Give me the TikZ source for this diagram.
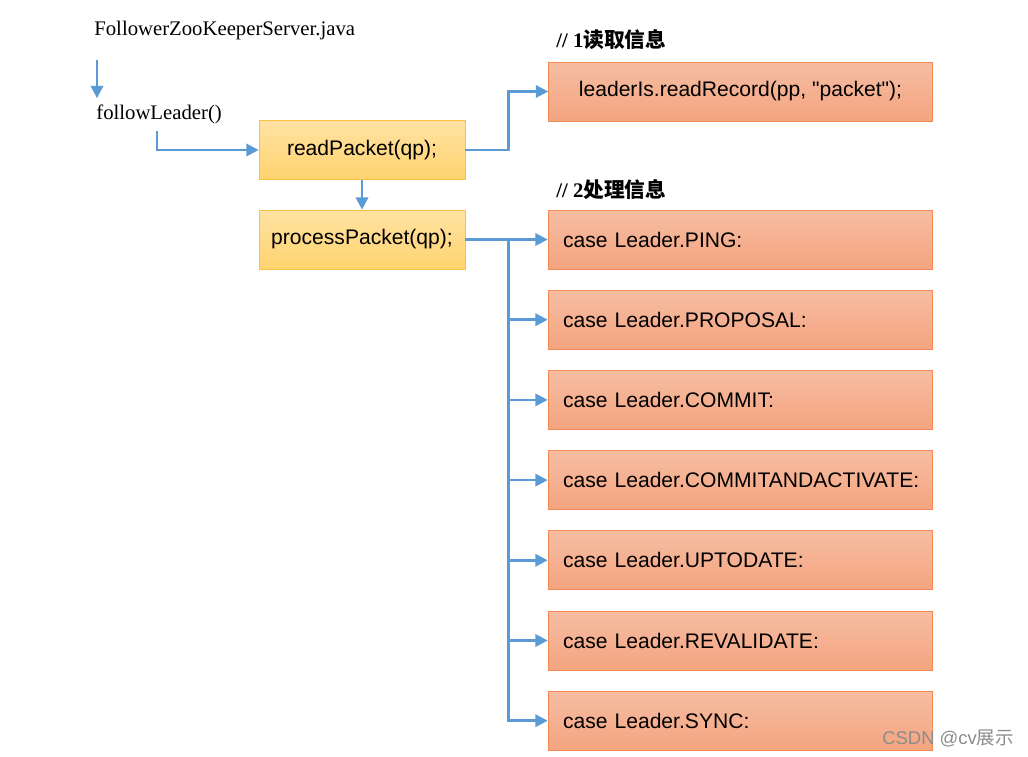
\documentclass[tikz,border=0pt]{standalone}
\usepackage{fontspec}
\setmainfont{Liberation Serif}
\newfontfamily\arial{Liberation Sans}
\newfontfamily\cjk{Noto Sans CJK SC}
\usetikzlibrary{arrows.meta,positioning}
\definecolor{lienbleu}{HTML}{5B9BD5}
\definecolor{jauneA}{HTML}{FFE2A3}
\definecolor{jauneB}{HTML}{FFD36E}
\definecolor{jauneBord}{HTML}{F9C23C}
\definecolor{saumonA}{HTML}{F6BDA2}
\definecolor{saumonB}{HTML}{F4A480}
\definecolor{saumonBord}{HTML}{F28A52}
\tikzset{
  fleche/.style={draw=lienbleu, line width=1.4pt, -{Triangle[length=7pt,width=7pt]}},
  texte/.style={anchor=west, inner sep=0pt, font=\fontsize{11.8}{14}\selectfont},
  titre/.style={texte, font=\fontsize{11.8}{14}\selectfont\bfseries},
  jaune/.style={draw=jauneBord, top color=jauneA, bottom color=jauneB, minimum width=4.12cm,
    minimum height=1.18cm, font=\arial\fontsize{12}{14}\selectfont},
  saumon/.style={draw=saumonBord, top color=saumonA, bottom color=saumonB, minimum width=7.68cm,
    minimum height=1.18cm, font=\arial\fontsize{12}{14}\selectfont},
  cas/.style={saumon, text width=7.08cm, inner xsep=0.3cm, align=left}
}
\begin{document}
\begin{tikzpicture}[x=0.02cm, y=-0.02cm]
  \useasboundingbox (0,0) rectangle (1028,757);

  % classe et methode
  \node[texte] (fzk) at (94,31) {FollowerZooKeeperServer.java};
  \node[texte] (follow) at (96,114) {followLeader()};

  % boites jaunes
  \node[jaune] (read) at (362,150) {readPacket(qp);};
  \node[jaune] (proc) at (362,239.5) {processPacket(qp);};

  % lecture
  \node[titre] (t1) at (556,40) {// 1{\cjk\bfseries 读取信息}};
  \node[saumon] (record) at (740.5,91.5) {leaderIs.readRecord(pp, "packet");};

  % traitement
  \node[titre] (t2) at (556,190) {// 2{\cjk\bfseries 处理信息}};
  \foreach \nom [count=\i from 0] in {PING,PROPOSAL,COMMIT,COMMITANDACTIVATE,UPTODATE,REVALIDATE,SYNC}
    \node[cas] (c\i) at (740,{239.5+80.2*\i}) {\mbox{case Leader.\nom:}};

  % fleches
  \draw[fleche] ([shift={(3,29)}]fzk.west) -- ([shift={(1,-6)}]follow.north west);
  \draw[fleche] ([shift={(-2,7)}]follow.south) |- (read.west);
  \draw[fleche] (read) -- (proc);
  \draw[fleche] (read.east) -- ++(43,0) |- (record.west);
  \coordinate (tronc) at ([shift={(43,0)}]proc.east);
  \foreach \i in {0,...,6}
    \draw[fleche] (proc.east) -- (tronc) |- (c\i.west);

  % filigrane
  \node[texte, text=black!45, font=\arial\fontsize{10.5}{13}\selectfont] (csdn) at (882,738) {CSDN @cv{\cjk 展示}};
\end{tikzpicture}
\end{document}
